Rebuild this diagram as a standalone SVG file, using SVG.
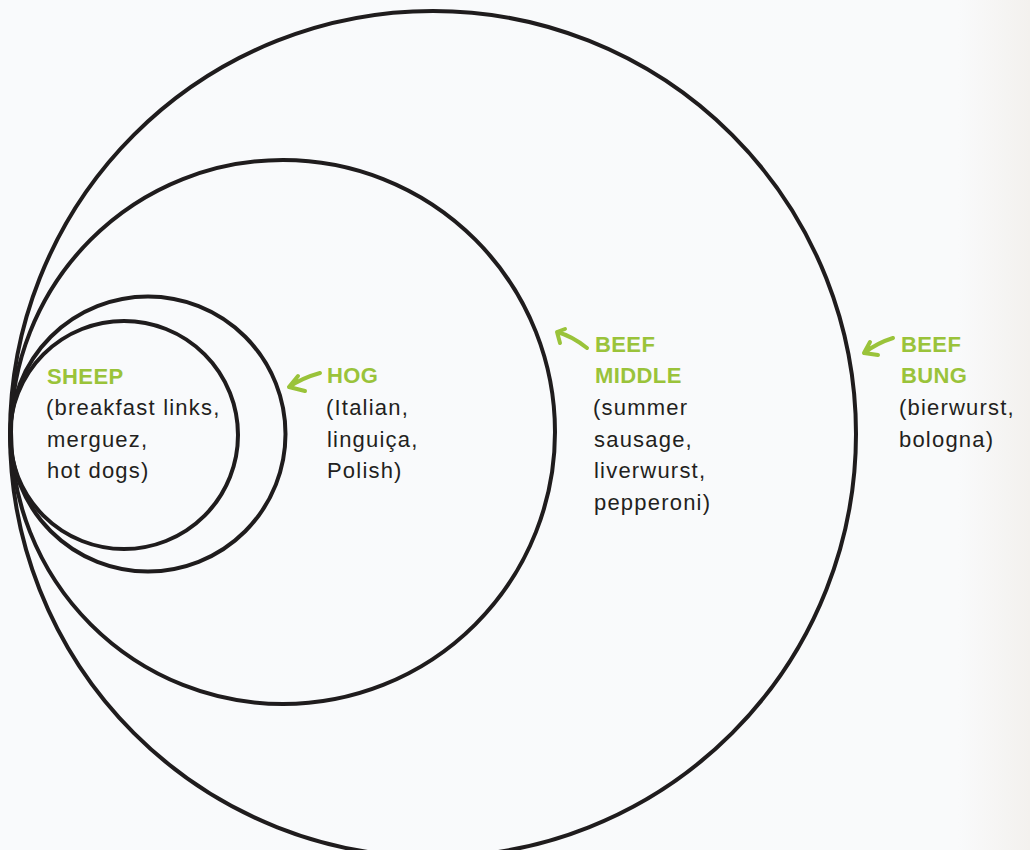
<svg xmlns="http://www.w3.org/2000/svg" width="1030" height="850" viewBox="0 0 1030 850">
<defs>
<linearGradient id="bg" x1="0" y1="0" x2="1" y2="0">
<stop offset="0" stop-color="#f9fafc"/>
<stop offset="0.93" stop-color="#f9fafb"/>
<stop offset="1" stop-color="#f3f1ee"/>
</linearGradient>
<style>
.ring{fill:none;stroke:#1f1c1d;stroke-width:4}
.t{font-family:"Liberation Sans",Arial,sans-serif;font-size:22px;fill:#231f20;letter-spacing:1.2px}
.h{font-weight:bold;fill:#9ac33a;letter-spacing:0.4px}
.arr{fill:none;stroke:#9ac33a;stroke-width:4;stroke-linecap:round;stroke-linejoin:round}
</style>
</defs>
<rect width="1030" height="850" fill="url(#bg)"/>
<g id="beef-bung">
<circle class="ring" cx="433" cy="434" r="423"/>
<text class="t" x="901" y="352"><tspan class="h">BEEF</tspan><tspan class="h" x="901" y="383">BUNG</tspan><tspan x="899" y="415">(bierwurst,</tspan><tspan x="899" y="447">bologna)</tspan></text>
</g>
<g id="beef-middle">
<circle class="ring" cx="283" cy="432" r="272"/>
<text class="t" x="595" y="352"><tspan class="h">BEEF</tspan><tspan class="h" x="595" y="383">MIDDLE</tspan><tspan x="593" y="415">(summer</tspan><tspan x="594" y="447">sausage,</tspan><tspan x="594" y="478">liverwurst,</tspan><tspan x="594" y="510">pepperoni)</tspan></text>
</g>
<g id="hog">
<circle class="ring" cx="148" cy="434" r="137.5"/>
<text class="t" x="327" y="383"><tspan class="h">HOG</tspan><tspan x="326" y="415">(Italian,</tspan><tspan x="327" y="447">linguiça,</tspan><tspan x="327" y="478">Polish)</tspan></text>
</g>
<g id="sheep">
<circle class="ring" cx="124" cy="435" r="114"/>
<text class="t" x="47" y="384"><tspan class="h">SHEEP</tspan><tspan x="46" y="415">(breakfast links,</tspan><tspan x="47" y="447">merguez,</tspan><tspan x="47" y="478">hot dogs)</tspan></text>
</g>
<g id="connectors">
<path class="arr" d="M320,373 Q302,378 289,387 M298,376 L289,387 L305,391"/>
<path class="arr" d="M587,348 Q572,336 557,332 M565,329 L557,332 L560,343"/>
<path class="arr" d="M893,338 Q877,343 864,353 M870,342 L864,353 L878,355"/>
</g>
</svg>
